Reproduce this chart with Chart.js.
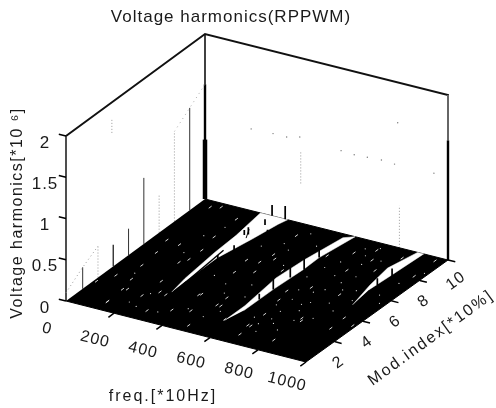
<!DOCTYPE html>
<html>
<head>
<meta charset="utf-8">
<style>
body { margin: 0; background: #fff; }
canvas { display: block; }
</style>
<script src="https://cdn.jsdelivr.net/npm/chart.js@4/dist/chart.umd.min.js"></script>
</head>
<body>
<canvas id="stage" width="496" height="408"></canvas>
<script>
// axis ticks
const freqTicks = [0, 200, 400, 600, 800, 1000];
const modTicks = [2, 4, 6, 8, 10];
const voltTicks = [0, 0.5, 1, 1.5, 2];

// harmonics standing up behind the floor, near freq 0
const tallMods = [1.2, 4.5, 5.6, 8.9];
const tallVolts = [0.26, 0.32, 0.8, 1.24];
const tallBase = [0, 0, 0, 0];
const tallFromMods = [3.4];
const tallFromVolts = [0.26];
const faintMods = [2.3, 6.7, 7.8, 3.3];
const faintVolts = [0.38, 0.46, 1.09, 1.8];
const faintBase = [0, 0, 0, 1.63];

// dotted outline of the tops
const ridge1Mods = [0, 1.2, 2.3];
const ridge1Volts = [0.1, 0.26, 0.38];
const ridge2Mods = [7.8, 8.9, 10];
const ridge2Volts = [1.09, 1.24, 1.39];

// lone points on the far wall (mod 10)
const wallFreqs = [190, 280, 336, 390, 560, 614, 668, 726, 780, 793, 942];
const wallVolts = [0.99, 1, 1, 1.04, 1, 0.99, 1, 1.01, 1, 1.51, 1.01];
const wallSpikeFreqs = [394, 800];
const wallSpikeLow = [0.48, 0];
const wallSpikeHigh = [0.87, 0.51];

// white gaps of the floor, walked round the outline
const gap1Freqs = [289, 272, 254, 248, 228, 340, 330, 312, 284, 286];
const gap1Mods = [2.6, 3.84, 6.28, 7.92, 10, 10, 9.5, 7.92, 5.9, 3.66];
const gap2Freqs = [572, 572, 550, 560, 585, 618, 596, 598, 590, 589];
const gap2Mods = [1.5, 2.96, 5.55, 7.37, 9.7, 10, 7.82, 6.67, 4.67, 2.59];
const gap3Freqs = [899, 868, 850, 875, 900, 892, 885];
const gap3Mods = [4.99, 6.76, 8.31, 10, 10, 7.91, 6.4];

// black streaks inside the first gap
const streakFreqs = [292, 272];
const streakMods = [3.4, 6.6];
const streak2Freqs = [262, 290];
const streak2Mods = [8.6, 7.9];

// short harmonics standing inside the gaps
const gapSpikeFreqs = [590, 591, 592, 601, 596, 306, 304, 271, 282, 293, 338, 276, 330, 904, 890];
const gapSpikeMods = [3.67, 4.65, 5.84, 6.67, 7.82, 5.6, 6.8, 8.1, 8.2, 9.2, 8.6, 10, 10, 7.7, 6.9];
const gapSpikeVolts = [0.07, 0.17, 0.15, 0.15, 0.12, 0.09, 0.06, 0.06, 0.09, 0.07, 0.05, 0.13, 0.16, 0.11, 0.08];

// white flecks left in the black floor
const fleckFreqs = [84, 46, 140, 125, 130, 211, 252, 75, 55, 186, 212, 110, 11, 187, 204, 390, 384, 181, 205, 444, 398, 459, 50, 84, 113, 433, 282, 482, 365, 384, 483, 568, 427, 131, 291, 499, 483, 664, 807, 810, 932, 652, 638, 699, 434, 466, 613, 669, 678, 676, 538, 800, 735, 822, 929, 683, 966, 964, 769, 852, 816, 742, 988];
const fleckMods = [4, 2.8, 2, 1.9, 0.76, 3.2, 2.4, 5.2, 6.3, 4.9, 1.8, 2.8, 2, 7.4, 5.3, 3, 6.3, 9.1, 6.2, 7.2, 5.2, 5.6, 9.5, 9.7, 6.2, 6.4, 2.3, 0.5, 1.3, 2.9, 2.5, 1.6, 1.6, 0.7, 0.8, 2.5, 3.2, 1.6, 1, 2.9, 2.9, 4, 4.8, 5.5, 9, 6.9, 8.1, 2.7, 0.8, 1.6, 6.2, 3.1, 7.4, 7.9, 3.9, 8.8, 8.2, 9.7, 8.6, 9.3, 5.5, 9.4, 3.5];

// finer dust, thicker in the right half of the floor
const dustFreqs = [420, 455, 470, 505, 520, 535, 540, 640, 655, 670, 690, 705, 720, 735, 750, 760, 775, 790, 805, 820, 835, 850, 865, 880, 940, 950, 975, 985, 650, 665, 680, 700, 715, 730, 745, 760, 690, 710, 725, 740, 755, 770, 785, 800, 520, 490, 470, 430, 410, 350, 370, 330, 160, 180, 150, 95, 230, 240, 200];
const dustMods = [4.2, 3.5, 7.8, 4.6, 6.6, 3.6, 8.6, 6.2, 7.2, 5.1, 4.3, 3.2, 6.8, 2.2, 5.6, 4.4, 1.8, 7.1, 5.9, 4.7, 3.3, 6.1, 4.2, 5.3, 6.2, 7.4, 5.6, 8.6, 2.3, 3.6, 7.9, 9.3, 1.3, 8.8, 9.6, 3.6, 1.9, 2.5, 5.2, 4.1, 8.1, 6.4, 2.8, 8.7, 2.1, 1.4, 9.4, 8.2, 1.7, 4.6, 7.6, 0.9, 5.7, 8.3, 7.3, 3.3, 2.1, 0.9, 1.1];

const freqMax = 1000, modMax = 10, voltMax = 2;
const titleFont = 17, titlePadTop = 7;
const titleHeight = titleFont * 1.2 + titlePadTop;
const labelFamily = '"Liberation Sans", Arial, sans-serif';
const ink = '#1a1a1a';

// floor corners on the page, the plot is a box seen from above
function project(f, m, v) {
   const u = f / freqMax, w = m / modMax;
   const x = (1 - u) * (1 - w) * 66 + u * (1 - w) * 306 + u * w * 448 + (1 - u) * w * 205;
   const y = (1 - u) * (1 - w) * 299 + u * (1 - w) * 360 + u * w * 258 + (1 - u) * w * 197;
   return { x: x, y: y - v * 82.5 };
}

const datasets = [];
function add(points, style) {
   datasets.push(Object.assign({
      data: points, showLine: true, pointRadius: 0, fill: false, clip: false,
      borderColor: ink, borderWidth: 1, order: -datasets.length
   }, style));
}
function path(fs, ms, vs) {
   return fs.map((f, i) => project(f, ms[i], vs ? vs[i] : 0));
}
function spikes(fs, ms, low, high) {
   const pts = [];
   fs.forEach((f, i) => {
      pts.push(project(f, ms[i], low[i]), project(f, ms[i], high[i]), { x: NaN, y: NaN });
   });
   return pts;
}
const zeros = n => new Array(n).fill(0);
const same = (n, val) => new Array(n).fill(val);

// back walls
add(path([0, 0, freqMax, freqMax], [0, modMax, modMax, modMax], [voltMax, voltMax, voltMax, 1.45]), { borderWidth: 2, borderColor: '#111' });
add(path([0, 0], [0, 0], [0, voltMax]), { borderWidth: 1.6, borderColor: '#222' });
add(path([0, 0], [modMax, modMax], [0, voltMax]), { borderWidth: 1.6, borderColor: '#111' });
add(path([freqMax, freqMax], [modMax, modMax], [0, 1.45]), { borderWidth: 2.4, borderColor: '#000' });
add(path([freqMax, freqMax], [modMax, modMax], [1.45, voltMax]), { borderWidth: 2, borderColor: '#666' });
add(path([0, 0], [modMax, modMax], [0, 1.39]), { borderWidth: 2.4, borderColor: '#000' });
add(path([0, 0], [modMax, modMax], [0, 0.72]), { borderWidth: 4.5, borderColor: '#000' });

// standing harmonics
add(spikes(same(tallMods.length, 0), tallMods, tallBase, tallVolts), { borderColor: '#333' });
add(spikes(same(tallFromMods.length, 0), tallFromMods, zeros(tallFromMods.length), tallFromVolts), { borderColor: '#333', borderWidth: 1.4 });
add(spikes(same(faintMods.length, 0), faintMods, faintBase, faintVolts), { borderColor: '#999', borderDash: [1, 2] });
add(path(same(3, 0), ridge1Mods, ridge1Volts), { borderColor: '#999', borderDash: [1, 3] });
add(path(same(3, 0), ridge2Mods, ridge2Volts), { borderColor: '#aaa', borderDash: [1, 4] });
add(spikes(wallSpikeFreqs, same(2, modMax), wallSpikeLow, wallSpikeHigh), { borderColor: '#999', borderDash: [1, 2] });
add(path(wallFreqs, same(wallFreqs.length, modMax), wallVolts), { showLine: false, pointRadius: 0.7, pointBackgroundColor: '#777', pointBorderWidth: 0 });

// floor
add(path([0, freqMax, freqMax, 0], [0, 0, modMax, modMax]), { fill: 'shape', backgroundColor: '#000', borderColor: '#000' });
const white = { fill: 'shape', backgroundColor: '#fff', borderColor: '#fff', borderWidth: 0.5 };
add(path(gap1Freqs, gap1Mods), white);
add(path(gap2Freqs, gap2Mods), white);
add(path(gap3Freqs, gap3Mods), white);
add(path(streakFreqs, streakMods), { borderColor: '#000', borderWidth: 1.4 });
add(path(streak2Freqs, streak2Mods), { borderColor: '#000', borderWidth: 1 });
add(spikes(gapSpikeFreqs, gapSpikeMods, zeros(gapSpikeFreqs.length), gapSpikeVolts), { borderColor: '#000', borderWidth: 1.7 });
add(path(fleckFreqs, fleckMods), {
   showLine: false, pointStyle: 'line', pointRadius: 1.8, pointRotation: -36,
   pointBorderColor: '#eee', pointBorderWidth: 0.9
});
add(path(dustFreqs, dustMods), { showLine: false, pointRadius: 0.6, pointBackgroundColor: '#ddd', pointBorderWidth: 0 });

// tick marks
const tickPts = [];
voltTicks.forEach(v => tickPts.push(project(0, 0, v), project(-30, 0, v), { x: NaN, y: NaN }));
freqTicks.slice(1).forEach(f => tickPts.push(project(f, 0, 0), project(f, -0.4, 0), { x: NaN, y: NaN }));
modTicks.forEach(m => tickPts.push(project(freqMax, m, 0), project(freqMax + 30, m, 0), { x: NaN, y: NaN }));
add(tickPts, { borderColor: '#000', borderWidth: 1.5 });

function putText(ctx, text, x, y, angle, size, spacing) {
   ctx.save();
   ctx.translate(x, y);
   ctx.rotate(angle * Math.PI / 180);
   ctx.font = size + 'px ' + labelFamily;
   ctx.letterSpacing = spacing + 'px';
   ctx.fillStyle = ink;
   ctx.textAlign = 'center';
   ctx.textBaseline = 'middle';
   ctx.fillText(text, 0, 0);
   ctx.restore();
}

// Chart.js has no 3d axes, the tick labels are laid along the projected box
const boxLabels = {
   id: 'boxLabels',
   beforeDraw(chart) {
      chart.ctx.letterSpacing = '1px';
   },
   afterDatasetsDraw(chart) {
      const ctx = chart.ctx, sx = chart.scales.x, sy = chart.scales.y;
      const px = p => sx.getPixelForValue(p.x), py = p => sy.getPixelForValue(p.y);
      voltTicks.forEach(v => {
         const p = project(0, 0, v);
         putText(ctx, String(v), px(p) - 21, py(p) + 7, 0, 17, 1);
      });
      freqTicks.forEach(f => {
         const p = project(f, 0, 0);
         putText(ctx, String(f), px(p) - 19, py(p) + 28 - f * 0.008, 14, 16, 1);
      });
      modTicks.forEach(m => {
         const p = project(freqMax, m, 0);
         putText(ctx, String(m), px(p) + (m == 10 ? 8 : 4), py(p) + 21, -36, 16, 1);
      });
      putText(ctx, 'freq.[*10Hz]', 163, 397, 0, 16, 2);
      putText(ctx, 'Mod.index[*10%]', 431, 338, -36, 16, 2);
      putText(ctx, 'Voltage harmonics[*10 ⁶]', 18, 213, -90, 16, 1.5);
   }
};

new Chart(document.getElementById('stage'), {
   type: 'scatter',
   data: { datasets: datasets },
   plugins: [boxLabels],
   options: {
      responsive: false,
      animation: false,
      layout: { autoPadding: false, padding: { right: 34 } },
      plugins: {
         legend: { display: false },
         tooltip: { enabled: false },
         title: {
            display: true,
            text: 'Voltage harmonics(RPPWM)',
            color: ink,
            font: { family: labelFamily, size: titleFont, weight: 'normal' },
            padding: { top: titlePadTop, bottom: 0 }
         }
      },
      scales: {
         x: { display: false, min: 0, max: 462 },
         y: { display: false, reverse: true, min: titleHeight - 2, max: 406 }
      }
   }
});
</script>
</body>
</html>
